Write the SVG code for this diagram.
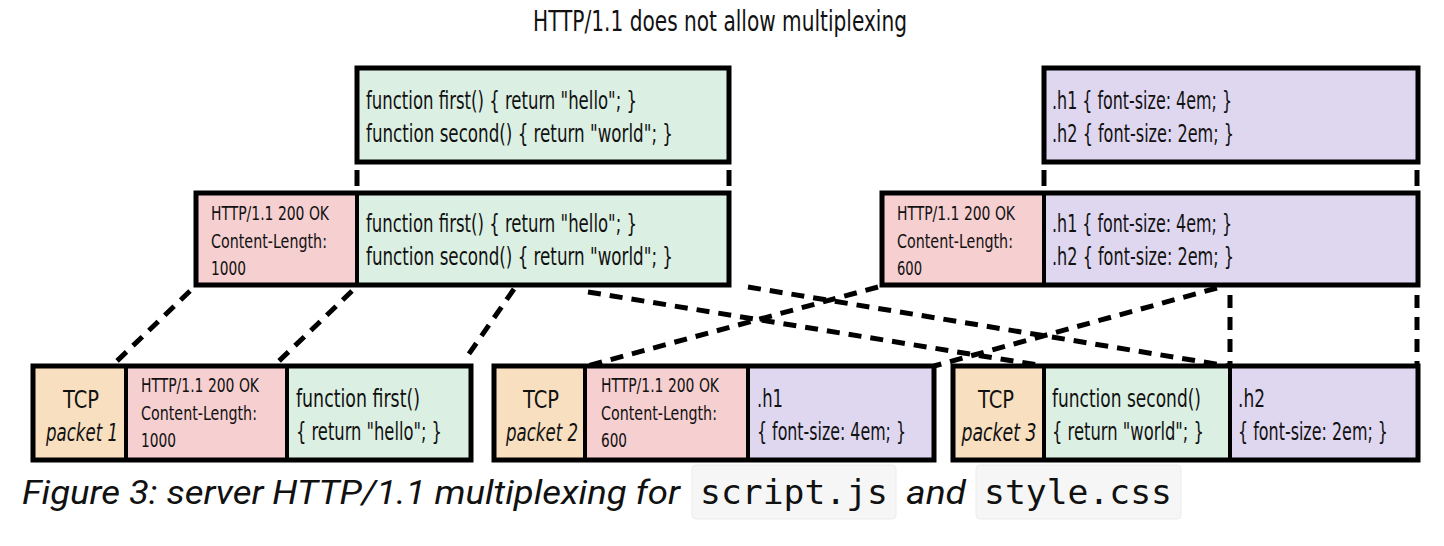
<svg xmlns="http://www.w3.org/2000/svg" width="1444" height="546" viewBox="0 0 1444 546">
<style>
.box{fill:none;stroke:#000;stroke-width:5}
.div{stroke:#000;stroke-width:4}
.g{fill:#dcefe3}.p{fill:#f6cfd0}.v{fill:#dfd6ef}.o{fill:#f8dfc0}
.t{font-family:"Liberation Sans Narrow","DejaVu Sans Condensed","Liberation Sans",sans-serif;fill:#111}
.code{font-size:25px}
.hdr{font-size:19px}
.tcp{font-size:24px;text-anchor:middle}
.it{font-style:italic}
.dash{fill:none;stroke:#000;stroke-width:5;stroke-dasharray:13 9}
</style>
<rect width="1444" height="546" fill="#fff"/>
<text class="t" x="720" y="31" font-size="28" text-anchor="middle" textLength="374" lengthAdjust="spacingAndGlyphs">HTTP/1.1 does not allow multiplexing</text>

<g id="connectors">
<line x1="357" y1="170" x2="357" y2="186" stroke="#000" stroke-width="5"/>
<line x1="729" y1="170" x2="729" y2="186" stroke="#000" stroke-width="5"/>
<line x1="1044" y1="170" x2="1044" y2="186" stroke="#000" stroke-width="5"/>
<line x1="1417" y1="170" x2="1417" y2="186" stroke="#000" stroke-width="5"/>
<line class="dash" x1="190" y1="291" x2="117" y2="361"/>
<line class="dash" x1="352" y1="291" x2="279" y2="361"/>
<line class="dash" x1="514" y1="289" x2="464" y2="361"/>
<line class="dash" x1="588" y1="292" x2="1044" y2="366"/>
<line class="dash" x1="748" y1="287" x2="1228" y2="366"/>
<line class="dash" x1="878" y1="287" x2="587" y2="366"/>
<line class="dash" x1="1217" y1="288" x2="934" y2="366"/>
<line class="dash" x1="1230" y1="295" x2="1230" y2="366"/>
<line class="dash" x1="1417" y1="295" x2="1417" y2="366"/>
</g>

<g id="script-top">
<rect class="g" x="357" y="68" width="372" height="94"/>
<rect class="box" x="357" y="68" width="372" height="94"/>
<text class="t code" x="366" y="109" textLength="271" lengthAdjust="spacingAndGlyphs">function first() { return "hello"; }</text>
<text class="t code" x="366" y="142" textLength="307" lengthAdjust="spacingAndGlyphs">function second() { return "world"; }</text>
</g>

<g id="style-top">
<rect class="v" x="1044" y="68" width="374" height="94"/>
<rect class="box" x="1044" y="68" width="374" height="94"/>
<text class="t code" x="1052" y="109" textLength="180" lengthAdjust="spacingAndGlyphs">.h1 { font-size: 4em; }</text>
<text class="t code" x="1052" y="142" textLength="182" lengthAdjust="spacingAndGlyphs">.h2 { font-size: 2em; }</text>
</g>

<g id="script-response">
<rect class="p" x="196" y="193" width="161" height="92"/>
<rect class="g" x="357" y="193" width="372" height="92"/>
<rect class="box" x="196" y="193" width="533" height="92"/>
<line class="div" x1="357" y1="193" x2="357" y2="285"/>
<text class="t hdr" x="211" y="220" textLength="118" lengthAdjust="spacingAndGlyphs">HTTP/1.1 200 OK</text>
<text class="t hdr" x="211" y="248" textLength="116" lengthAdjust="spacingAndGlyphs">Content-Length:</text>
<text class="t hdr" x="211" y="275" textLength="35" lengthAdjust="spacingAndGlyphs">1000</text>
<text class="t code" x="366" y="232" textLength="271" lengthAdjust="spacingAndGlyphs">function first() { return "hello"; }</text>
<text class="t code" x="366" y="265" textLength="307" lengthAdjust="spacingAndGlyphs">function second() { return "world"; }</text>
</g>

<g id="style-response">
<rect class="p" x="882" y="193" width="162" height="92"/>
<rect class="v" x="1044" y="193" width="374" height="92"/>
<rect class="box" x="882" y="193" width="536" height="92"/>
<line class="div" x1="1044" y1="193" x2="1044" y2="285"/>
<text class="t hdr" x="897" y="220" textLength="118" lengthAdjust="spacingAndGlyphs">HTTP/1.1 200 OK</text>
<text class="t hdr" x="897" y="248" textLength="116" lengthAdjust="spacingAndGlyphs">Content-Length:</text>
<text class="t hdr" x="897" y="275" textLength="25" lengthAdjust="spacingAndGlyphs">600</text>
<text class="t code" x="1052" y="232" textLength="180" lengthAdjust="spacingAndGlyphs">.h1 { font-size: 4em; }</text>
<text class="t code" x="1052" y="265" textLength="182" lengthAdjust="spacingAndGlyphs">.h2 { font-size: 2em; }</text>
</g>

<g id="packet1">
<rect class="o" x="33" y="366" width="93" height="94"/>
<rect class="p" x="126" y="366" width="161" height="94"/>
<rect class="g" x="287" y="366" width="184" height="94"/>
<rect class="box" x="33" y="366" width="438" height="94"/>
<line class="div" x1="126" y1="366" x2="126" y2="460"/>
<line class="div" x1="287" y1="366" x2="287" y2="460"/>
<text class="t tcp" x="81" y="408" textLength="36" lengthAdjust="spacingAndGlyphs">TCP</text>
<text class="t tcp it" x="82" y="441" textLength="72" lengthAdjust="spacingAndGlyphs">packet 1</text>
<text class="t hdr" x="141" y="392" textLength="118" lengthAdjust="spacingAndGlyphs">HTTP/1.1 200 OK</text>
<text class="t hdr" x="141" y="420" textLength="116" lengthAdjust="spacingAndGlyphs">Content-Length:</text>
<text class="t hdr" x="141" y="447" textLength="35" lengthAdjust="spacingAndGlyphs">1000</text>
<text class="t code" x="296" y="407" textLength="124" lengthAdjust="spacingAndGlyphs">function first()</text>
<text class="t code" x="296" y="440" textLength="146" lengthAdjust="spacingAndGlyphs">{ return "hello"; }</text>
</g>

<g id="packet2">
<rect class="o" x="494" y="366" width="91" height="94"/>
<rect class="p" x="585" y="366" width="163" height="94"/>
<rect class="v" x="748" y="366" width="186" height="94"/>
<rect class="box" x="494" y="366" width="440" height="94"/>
<line class="div" x1="585" y1="366" x2="585" y2="460"/>
<line class="div" x1="748" y1="366" x2="748" y2="460"/>
<text class="t tcp" x="541" y="408" textLength="36" lengthAdjust="spacingAndGlyphs">TCP</text>
<text class="t tcp it" x="542" y="441" textLength="72" lengthAdjust="spacingAndGlyphs">packet 2</text>
<text class="t hdr" x="601" y="392" textLength="118" lengthAdjust="spacingAndGlyphs">HTTP/1.1 200 OK</text>
<text class="t hdr" x="601" y="420" textLength="116" lengthAdjust="spacingAndGlyphs">Content-Length:</text>
<text class="t hdr" x="601" y="447" textLength="26" lengthAdjust="spacingAndGlyphs">600</text>
<text class="t code" x="757" y="407" textLength="26" lengthAdjust="spacingAndGlyphs">.h1</text>
<text class="t code" x="757" y="440" textLength="149" lengthAdjust="spacingAndGlyphs">{ font-size: 4em; }</text>
</g>

<g id="packet3">
<rect class="o" x="953" y="366" width="91" height="94"/>
<rect class="g" x="1044" y="366" width="186" height="94"/>
<rect class="v" x="1230" y="366" width="188" height="94"/>
<rect class="box" x="953" y="366" width="465" height="94"/>
<line class="div" x1="1044" y1="366" x2="1044" y2="460"/>
<line class="div" x1="1230" y1="366" x2="1230" y2="460"/>
<text class="t tcp" x="996" y="408" textLength="36" lengthAdjust="spacingAndGlyphs">TCP</text>
<text class="t tcp it" x="999" y="441" textLength="75" lengthAdjust="spacingAndGlyphs">packet 3</text>
<text class="t code" x="1052" y="407" textLength="149" lengthAdjust="spacingAndGlyphs">function second()</text>
<text class="t code" x="1052" y="440" textLength="152" lengthAdjust="spacingAndGlyphs">{ return "world"; }</text>
<text class="t code" x="1238" y="407" textLength="27" lengthAdjust="spacingAndGlyphs">.h2</text>
<text class="t code" x="1238" y="440" textLength="150" lengthAdjust="spacingAndGlyphs">{ font-size: 2em; }</text>
</g>

<g id="caption">
<text x="22" y="504" font-family="Roboto,'Liberation Sans',sans-serif" font-style="italic" font-size="33" fill="#111" textLength="658" lengthAdjust="spacingAndGlyphs">Figure 3: server HTTP/1.1 multiplexing for</text>
<rect x="692" y="465" width="204" height="54" rx="4" fill="#f6f6f6" stroke="#ececec" stroke-width="1"/>
<text x="700" y="504" font-family="'DejaVu Sans Mono','Liberation Mono',monospace" font-size="34" fill="#111" textLength="188" lengthAdjust="spacingAndGlyphs">script.js</text>
<text x="906" y="504" font-family="Roboto,'Liberation Sans',sans-serif" font-style="italic" font-size="33" fill="#111" textLength="60" lengthAdjust="spacingAndGlyphs">and</text>
<rect x="976" y="465" width="205" height="54" rx="4" fill="#f6f6f6" stroke="#ececec" stroke-width="1"/>
<text x="984" y="504" font-family="'DejaVu Sans Mono','Liberation Mono',monospace" font-size="34" fill="#111" textLength="188" lengthAdjust="spacingAndGlyphs">style.css</text>
</g>
</svg>
